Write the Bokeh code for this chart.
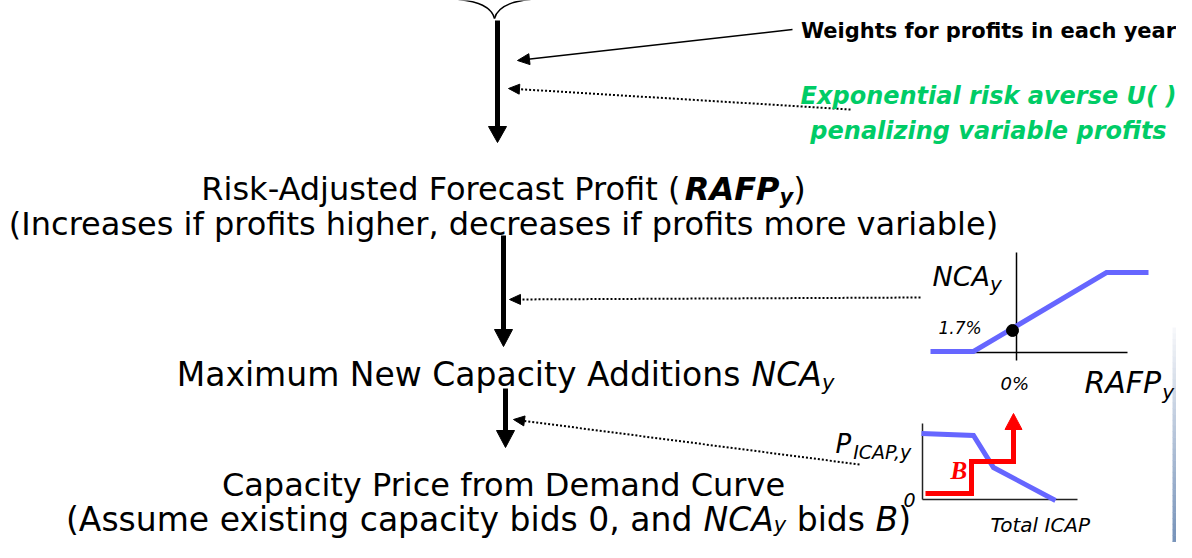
from bokeh.plotting import figure
from bokeh.models import Range1d, ColumnDataSource
from bokeh.embed import file_html
from bokeh.resources import INLINE

# ---------------- content ----------------
risk_line = ["Risk-Adjusted Forecast Profit (", "RAFP", "y", ")"]
risk_note = "(Increases if profits higher, decreases if profits more variable)"
nca_line = ["Maximum New Capacity Additions ", "NCA", "y"]
price_line = "Capacity Price from Demand Curve"
assume_line = ["(Assume existing capacity bids 0, and ", "NCA", "y", " bids ", "B", ")"]
weights_label = "Weights for profits in each year"
utility_label = ["Exponential risk averse U( )", "penalizing variable profits"]

# inset 1: NCA_y response to RAFP_y (inset pixel space)
nca_curve_x = [930, 973, 1106, 1148]
nca_curve_y = [351, 351, 272, 272]
nca_point_x = [1012]
nca_point_y = [330]
nca_labels = ["1.7%", "0%"]

# inset 2: demand curve and bid stack (inset pixel space)
demand_x = [921, 973, 993, 1055]
demand_y = [433, 435, 467, 500]
bid_x = [925, 971, 971, 1013, 1013]
bid_y = [493, 493, 461, 461, 428]

BLUE = "#6666FF"
RED = "#FF0000"
GREEN = "#00CC66"
FONT = "DejaVu Sans"

# DejaVu Sans advance widths (per 1000 em)
REG = dict(zip("abcdefghijklmnopqrstuvwxyz",
               [613, 635, 550, 635, 615, 352, 635, 634, 278, 278, 579, 278, 974,
                634, 612, 635, 635, 411, 521, 392, 634, 592, 818, 592, 592, 525]))
REG.update(dict(zip("ABCDEFGHIJKLMNOPQRSTUVWXYZ",
                    [684, 686, 698, 770, 632, 575, 775, 752, 295, 295, 656, 557, 863,
                     748, 787, 603, 787, 695, 635, 611, 732, 684, 989, 685, 611, 685])))
REG.update({" ": 318, "(": 390, ")": 390, ",": 318, "-": 361, ".": 318, "%": 950})
REG.update({d: 636 for d in "0123456789"})
BOLD = {"R": 770, "A": 774, "F": 683, "P": 733, "y": 652, " ": 348, "(": 457, ")": 457}


def tw(s, size, bold=False):
    tab = BOLD if bold else REG
    return sum(tab.get(c, REG.get(c, 600)) for c in s) / 1000.0 * size


p = figure(width=1176, height=542, output_backend="svg", toolbar_location=None,
           x_range=Range1d(0, 1176), y_range=Range1d(542, 0),
           x_axis_location=None, y_axis_location=None, min_border=0)
p.grid.visible = False
p.outline_line_color = None
p.background_fill_color = "white"
p.border_fill_color = "white"

T = dict(x=[], y=[], text=[], size=[], style=[], font=[], color=[], align=[])


def put(x, y, s, size, style="normal", color="black", align="left", font=FONT):
    T["x"].append(x); T["y"].append(y); T["text"].append(s)
    T["size"].append(f"{size}px"); T["style"].append(style); T["font"].append(font)
    T["color"].append(color); T["align"].append(align)


def rich(cx, base, segs):
    total = sum(tw(s, sz, "bold" in st) for s, st, sz, dy in segs)
    x = cx - total / 2.0
    for s, st, sz, dy in segs:
        bold = "bold" in st
        lead = len(s) - len(s.lstrip(" "))
        put(x + tw(" " * lead, sz, bold), base + dy, s.strip(" "), sz, st)
        x += tw(s, sz, bold)


F, SUB = 32, 21

# ---------------- background gradient strip ----------------
n = 40
top, bot = 327, 558
c0, c1 = (246, 247, 250), (110, 140, 181)
gx0, gx1, gy0, gy1, gc = [], [], [], [], []
for i in range(n):
    t = i / (n - 1)
    gx0.append(1172); gx1.append(1192)
    gy0.append(top + (bot - top) * i / n); gy1.append(top + (bot - top) * (i + 1) / n + 0.5)
    r, g, b = (int(c0[k] + (c1[k] - c0[k]) * t) for k in range(3))
    gc.append(f"#{r:02x}{g:02x}{b:02x}")
p.quad(left=gx0, right=gx1, top=gy0, bottom=gy1, fill_color=gc, line_color=None)

# ---------------- top brace ----------------
p.quadratic(x0=[458, 530], y0=[-1, -1], x1=[494, 494], y1=[18, 18],
            cx=[490, 498], cy=[2, 2], line_color="black", line_width=1.5)

# ---------------- main flow arrows ----------------
shaft_x = [497, 503, 505]
shaft_top = [20, 235, 388]
head_top = [126, 329, 430]
head_tip = [142, 346, 447]
p.segment(x0=shaft_x, y0=shaft_top, x1=shaft_x, y1=[h + 1 for h in head_top],
          line_color="black", line_width=5)
p.patches(xs=[[x - 9, x + 9, x] for x in shaft_x],
          ys=[[h, h, t] for h, t in zip(head_top, head_tip)],
          fill_color="black", line_color="black", line_width=1)


def head(tip, frm, length=11, half=5):
    dx, dy = frm[0] - tip[0], frm[1] - tip[1]
    L = (dx * dx + dy * dy) ** 0.5
    ux, uy = dx / L, dy / L
    bx, by = tip[0] + ux * length, tip[1] + uy * length
    return [tip[0], bx - uy * half, bx + uy * half], [tip[1], by + ux * half, by - ux * half]


# thin solid arrow from the weights label
w_from, w_tip = (792, 29), (517, 60)
p.line([w_from[0], w_tip[0] + 6], [w_from[1], w_tip[1] - 0.7], line_color="black", line_width=1.6)
hx, hy = head(w_tip, w_from, 12, 5.5)
p.patch(hx, hy, fill_color="black", line_color="black")

# dotted arrows
dots = [((850, 109), (508, 88)), ((920, 297), (509, 299)), ((859, 464), (513, 419))]
for frm, tip in dots:
    hx, hy = head(tip, frm, 11, 5)
    p.line([frm[0], hx[1] / 2 + hx[2] / 2], [frm[1], hy[1] / 2 + hy[2] / 2],
           line_color="black", line_width=2, line_dash="2 2")
    p.patch(hx, hy, fill_color="black", line_color="black")

# ---------------- inset 1 : NCA vs RAFP ----------------
p.segment(x0=[1016, 970], y0=[252, 352], x1=[1016, 1127], y1=[360, 352],
          line_color="black", line_width=1.5)
p.line(nca_curve_x, nca_curve_y, line_color=BLUE, line_width=5, line_join="miter")
p.scatter(nca_point_x, nca_point_y, size=12, fill_color="black", line_color="black")
put(932, 276, "NCA", 27, "italic")
put(932 + tw("NCA", 27), 283, "y", 20, "italic")
put(938, 327, nca_labels[0], 17, "italic")
put(1000, 383, nca_labels[1], 18, "italic")
put(1084, 382, "RAFP", 30, "italic")
put(1084 + tw("RAFP", 30) + 1, 391, "y", 20, "italic")

# ---------------- inset 2 : demand curve ----------------
p.segment(x0=[922, 922], y0=[423, 499], x1=[922, 1077], y1=[499, 499],
          line_color="#222222", line_width=1.5)
p.line(demand_x, demand_y, line_color=BLUE, line_width=5, line_join="miter")
p.line(bid_x, bid_y, line_color=RED, line_width=5, line_join="miter")
p.patch([bid_x[-1] - 8.5, bid_x[-1] + 8.5, bid_x[-1]], [bid_y[-1] + 1, bid_y[-1] + 1, 413],
        fill_color=RED, line_color=RED)
put(835, 443, "P", 26, "italic")
put(835 + tw("P", 26) + 2, 451, "ICAP,y", 19, "italic")
put(903, 499, "0", 19, "italic")
put(990, 524, "Total ICAP", 20, "italic")
put(950, 470, "B", 25, "bold italic", RED, font="Liberation Serif")

# ---------------- labels on the right ----------------
put(988, 30, weights_label, 21, "bold", align="center")
put(988, 95, utility_label[0], 24, "bold italic", GREEN, align="center")
put(988, 130, utility_label[1], 24, "bold italic", GREEN, align="center")

# ---------------- main flow text ----------------
rich(503, 188, [(risk_line[0], "normal", F, 0), (risk_line[1], "bold italic", F, 0),
                (risk_line[2], "bold italic", SUB, 8), (risk_line[3], "normal", F, 0)])
put(503, 223, risk_note, F, align="center")
rich(505, 374, [(nca_line[0], "normal", 33, 0), (nca_line[1], "italic", 33, 0),
                (nca_line[2], "italic", SUB, 8)])
put(503, 484, price_line, F, align="center")
rich(488, 519, [(assume_line[0], "normal", 33, 0), (assume_line[1], "italic", 33, 0),
                (assume_line[2], "italic", SUB, 5), (assume_line[3], "normal", 33, 0),
                (assume_line[4], "italic", 33, 0), (assume_line[5], "normal", 33, 0)])

src = ColumnDataSource(T)
p.text(x="x", y="y", text="text", source=src, text_font_size="size",
       text_font_style="style", text_font="font", text_color="color",
       text_align="align", text_baseline="alphabetic")

open("out.html", "w").write(file_html(p, INLINE))
